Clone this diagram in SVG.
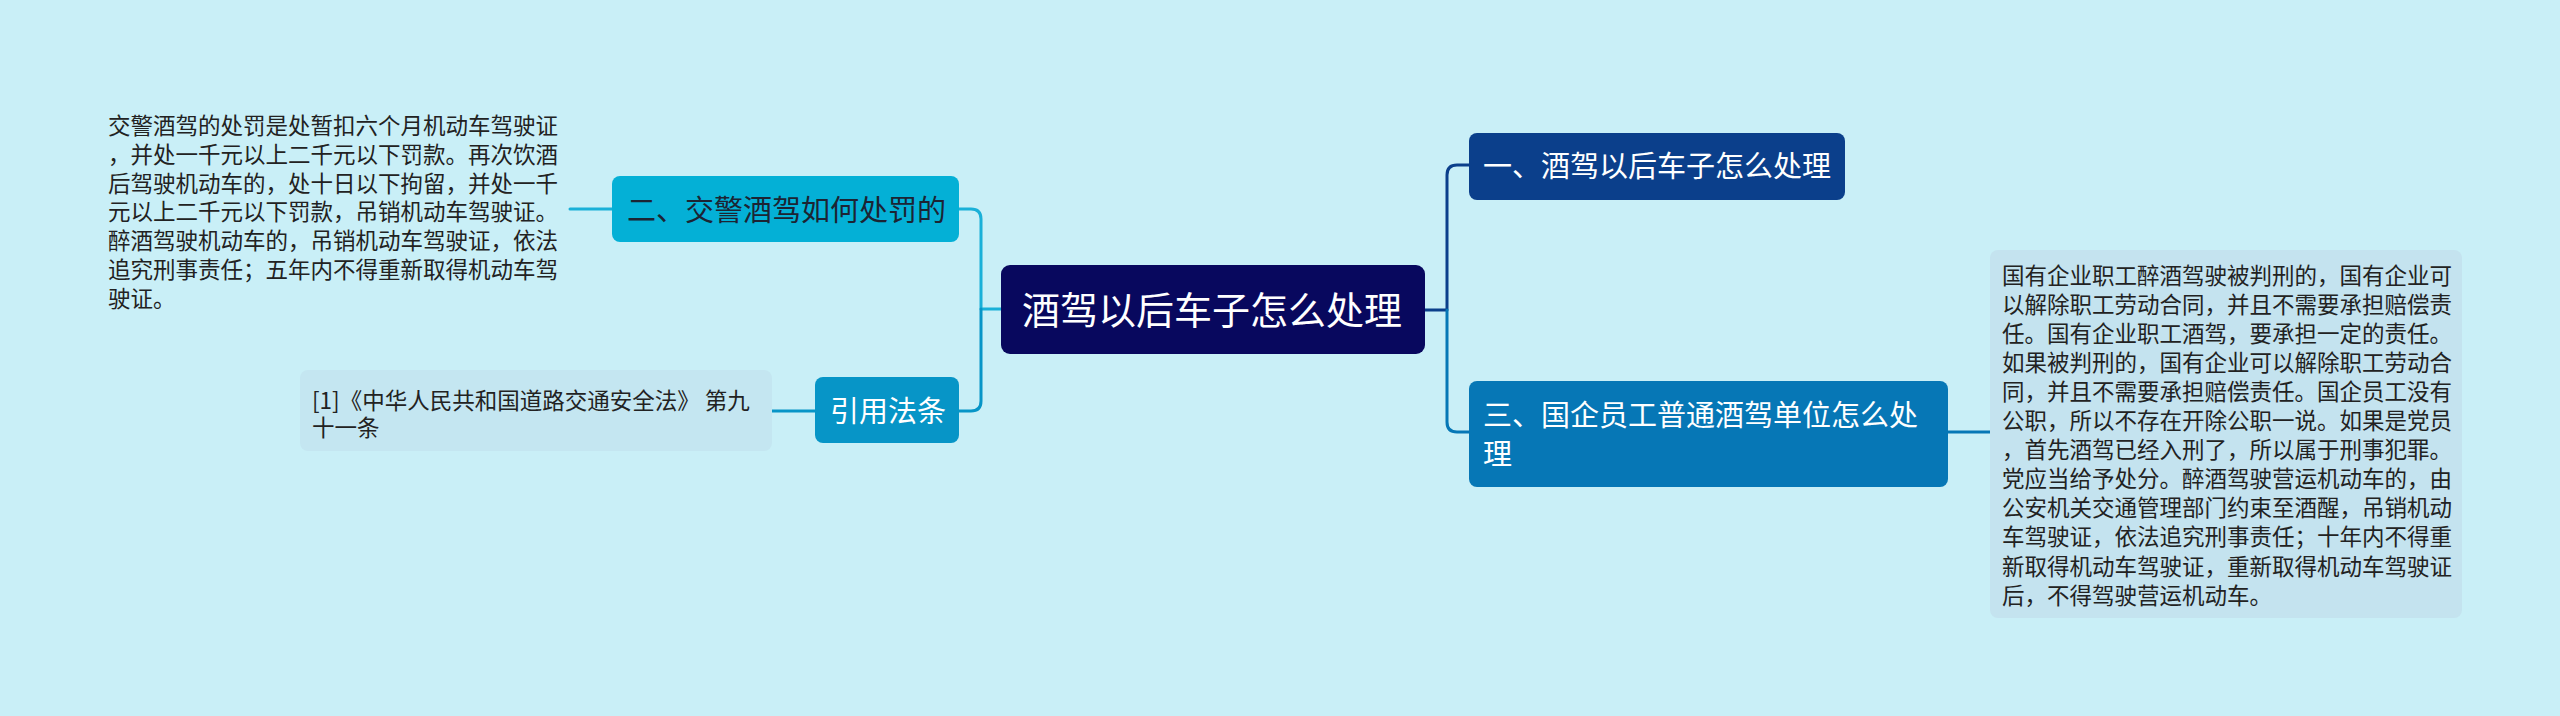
<svg xmlns="http://www.w3.org/2000/svg" width="2560" height="716" viewBox="0 0 2560 716">
<style>
text{font-family:"Noto Sans CJK SC","Noto Sans",sans-serif;}
.t38{font-size:38px;fill:#ffffff;}
.t29w{font-size:29px;fill:#ffffff;}
.t29d{font-size:29px;fill:#1c2433;}
.t22{font-size:22.5px;fill:#222222;}
.c{fill:none;stroke-width:3;stroke-linecap:round;stroke-linejoin:round;}
</style>
<rect x="0" y="0" width="2560" height="716" fill="#c9eff7"/>
<g id="connectors">
<path class="c" stroke="#0b3f8b" d="M1425,310 H1447 V175 Q1447,165 1457,165 H1469"/>
<path class="c" stroke="#0677b6" d="M1447,310 V422 Q1447,432 1457,432 H1469"/>
<path class="c" stroke="#0677b6" d="M1948,432 H1990"/>
<path class="c" stroke="#1ab0d8" d="M1001,309 H981 V219 Q981,209 971,209 H959"/>
<path class="c" stroke="#0795c7" d="M981,309 V401 Q981,411 971,411 H959"/>
<path class="c" stroke="#1ab0d8" d="M612,209 H570"/>
<path class="c" stroke="#0795c7" d="M815,411 H772"/>
</g>
<g id="center">
<rect x="1001" y="265" width="424" height="89" rx="9" fill="#08085e"/>
<text class="t38" x="1022" y="324">酒驾以后车子怎么处理</text>
</g>
<g id="n1">
<rect x="1469" y="133" width="376" height="67" rx="8" fill="#0b3f8b"/>
<text class="t29w" x="1483" y="177">一、酒驾以后车子怎么处理</text>
</g>
<g id="n3">
<rect x="1469" y="381" width="479" height="106" rx="8" fill="#0677b6"/>
<text class="t29w" x="1483" y="426">三、国企员工普通酒驾单位怎么处</text>
<text class="t29w" x="1483" y="465">理</text>
</g>
<g id="n3-detail">
<rect x="1990" y="250" width="472" height="368" rx="8" fill="#c4e3ef"/>
<text class="t22" x="2002" y="283.5">国有企业职工醉酒驾驶被判刑的，国有企业可</text>
<text class="t22" x="2002" y="312.6">以解除职工劳动合同，并且不需要承担赔偿责</text>
<text class="t22" x="2002" y="341.7">任。国有企业职工酒驾，要承担一定的责任。</text>
<text class="t22" x="2002" y="370.8">如果被判刑的，国有企业可以解除职工劳动合</text>
<text class="t22" x="2002" y="399.9">同，并且不需要承担赔偿责任。国企员工没有</text>
<text class="t22" x="2002" y="429">公职，所以不存在开除公职一说。如果是党员</text>
<text class="t22" x="2002" y="458.1">，首先酒驾已经入刑了，所以属于刑事犯罪。</text>
<text class="t22" x="2002" y="487.2">党应当给予处分。醉酒驾驶营运机动车的，由</text>
<text class="t22" x="2002" y="516.3">公安机关交通管理部门约束至酒醒，吊销机动</text>
<text class="t22" x="2002" y="545.4">车驾驶证，依法追究刑事责任；十年内不得重</text>
<text class="t22" x="2002" y="574.5">新取得机动车驾驶证，重新取得机动车驾驶证</text>
<text class="t22" x="2002" y="603.6">后，不得驾驶营运机动车。</text>
</g>
<g id="n2">
<rect x="612" y="176" width="347" height="66" rx="8" fill="#04b0d6"/>
<text class="t29d" x="627" y="221">二、交警酒驾如何处罚的</text>
</g>
<g id="n2-detail">
<text class="t22" x="108" y="134">交警酒驾的处罚是处暂扣六个月机动车驾驶证</text>
<text class="t22" x="108" y="162.8">，并处一千元以上二千元以下罚款。再次饮酒</text>
<text class="t22" x="108" y="191.6">后驾驶机动车的，处十日以下拘留，并处一千</text>
<text class="t22" x="108" y="220.4">元以上二千元以下罚款，吊销机动车驾驶证。</text>
<text class="t22" x="108" y="249.2">醉酒驾驶机动车的，吊销机动车驾驶证，依法</text>
<text class="t22" x="108" y="278">追究刑事责任；五年内不得重新取得机动车驾</text>
<text class="t22" x="108" y="306.8">驶证。</text>
</g>
<g id="ref">
<rect x="815" y="377" width="144" height="66" rx="8" fill="#0795c7"/>
<text class="t29w" x="830" y="421.5">引用法条</text>
</g>
<g id="ref-detail">
<rect x="300" y="370" width="472" height="81" rx="8" fill="#c4e6f1"/>
<text class="t22" x="312" y="409.3">[1]《中华人民共和国道路交通安全法》 第九</text>
<text class="t22" x="312" y="435.7">十一条</text>
</g>
</svg>
